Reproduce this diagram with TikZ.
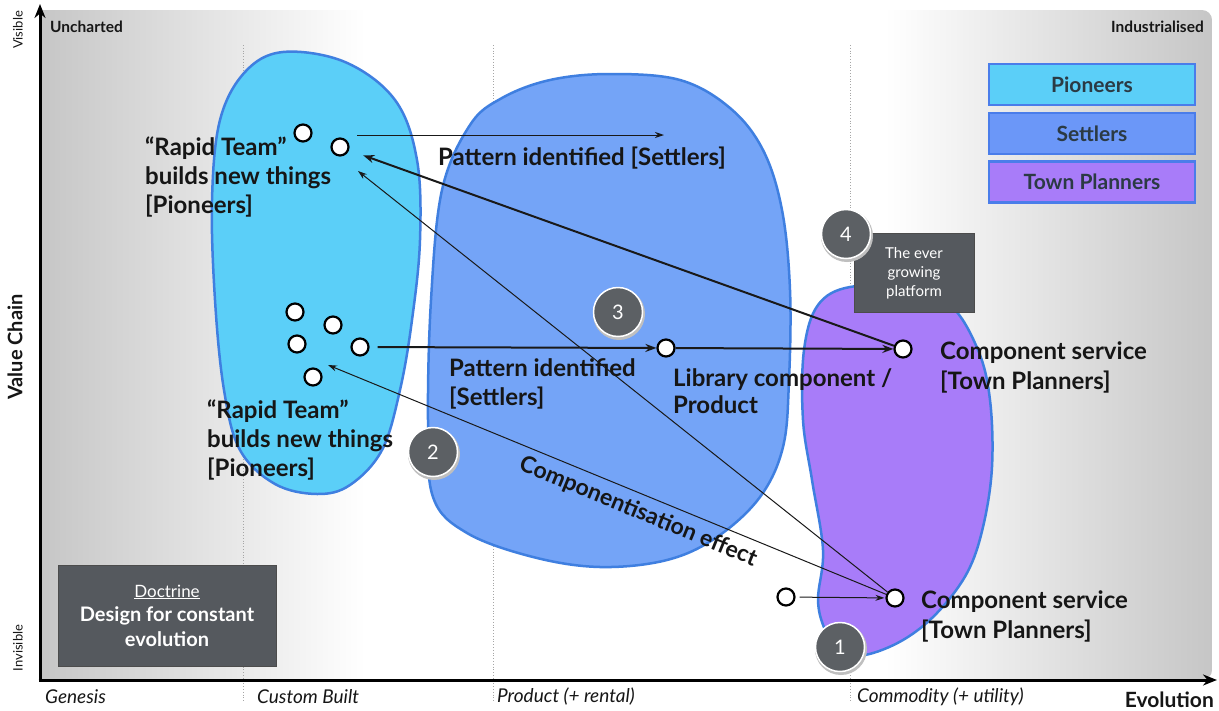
\documentclass[tikz,border=0pt]{standalone}
\usepackage{fontspec}
\setmainfont{Lato}
\usetikzlibrary{arrows.meta}
\definecolor{pionfill}{HTML}{5BCFF8}
\definecolor{settfill}{HTML}{74A4F7}
\definecolor{townfill}{HTML}{A87CF9}
\definecolor{blobline}{HTML}{3F7FE0}
\definecolor{legline}{HTML}{4A7DEA}
\definecolor{numgray}{HTML}{5C6064}
\definecolor{boxgray}{HTML}{55595E}
\definecolor{txt}{HTML}{161616}
\definecolor{legtxt}{HTML}{2B3A44}
\definecolor{bggray}{HTML}{C6C6C6}
\tikzset{
  lbl/.style={font=\bfseries\fontsize{24}{29}\selectfont, align=left, anchor=north west, inner sep=0pt, text=txt},
  dot/.style={circle, draw=black, line width=2.2pt, fill=white, minimum size=17pt, inner sep=0pt},
  num/.style={circle, fill=numgray, draw=white, line width=1.5pt, minimum size=49pt, inner sep=0pt, text=white, font=\fontsize{20}{20}\selectfont},
  legbox/.style={draw=legline, line width=2.5pt, minimum width=206pt, minimum height=41pt, inner sep=0pt, text=legtxt, font=\bfseries\fontsize{21}{21}\selectfont},
  blob/.style={draw=blobline, line width=2.5pt},
  axlbl/.style={font=\itshape\fontsize{19}{19}\selectfont, anchor=west, inner sep=0pt, text=txt},
  sidelbl/.style={font=\fontsize{13}{13}\selectfont, rotate=90, inner sep=0pt, text=txt},
  guide/.style={draw=gray!70, dotted, line width=0.8pt},
  thinarr/.style={-{Stealth[length=9pt,width=6pt]}, line width=1pt, draw=black!90},
  medarr/.style={-{Stealth[length=11pt,width=8pt]}, line width=2pt, draw=black!90},
}
\begin{document}
\begin{tikzpicture}[x=1pt,y=-1pt]
\useasboundingbox (0,0) rectangle (1219,710);
% background
\fill[white] (0,0) rectangle (1219,710);
\fill[white, rounded corners=10pt] (40,10) rectangle (1212,680);
\shade[left color=bggray, right color=white] (40,10) rectangle (365,680);
\begin{scope}
\clip[rounded corners=10pt] (40,10) rectangle (1212,680);
\shade[left color=white, right color=bggray] (885,10) rectangle (1212,680);
\end{scope}
% guides
\draw[guide] (243,45) -- (243,702);
\draw[guide] (493,45) -- (493,702);
\draw[guide] (850,45) -- (850,702);
% blobs
\draw[blob, fill=pionfill] plot[smooth cycle, tension=0.6] coordinates {(283,52) (345,62) (395,100) (417,160) (420,240) (412,320) (400,390) (382,450) (350,485) (317,494) (275,484) (240,450) (224,390) (215,300) (212,200) (220,120) (245,72)};
\draw[blob, fill=settfill] plot[smooth cycle, tension=0.6] coordinates {(442,190) (470,125) (502,98) (550,80) (610,74) (680,80) (730,108) (763,150) (782,210) (790,290) (789,380) (783,447) (760,497) (717,537) (667,560) (600,567) (533,557) (467,533) (433,497) (428,420) (431,300)};
\draw[blob, fill=townfill] plot[smooth cycle, tension=0.6] coordinates {(850,287) (905,289) (950,305) (978,350) (990,400) (992,467) (983,527) (967,573) (937,613) (903,640) (865,655) (838,652) (825,630) (818,600) (823,550) (812,480) (803,420) (804,350) (818,305)};
% axes
\draw[line width=3pt, -{Stealth[length=14pt,width=11pt]}] (40,681) -- (40,4);
\draw[line width=3pt, -{Stealth[length=14pt,width=11pt]}] (38.5,680) -- (1217,680);
% axis labels
\node[font=\bfseries\fontsize{15.5}{15.5}\selectfont, anchor=west, inner sep=0pt, text=txt] (unch) at (50,27) {Uncharted};
\node[font=\bfseries\fontsize{15.5}{15.5}\selectfont, anchor=east, inner sep=0pt, text=txt] (indu) at (1204,27) {Industrialised};
\node[axlbl] (gen) at (45,697) {Genesis};
\node[axlbl] (cust) at (257,697) {Custom Built};
\node[axlbl] (prod) at (497,697) {Product (+ rental)};
\node[axlbl] (comm) at (857,697) {Commodity (+ utility)};
\node[font=\bfseries\fontsize{21}{21}\selectfont, anchor=east, inner sep=0pt, text=txt] (evo) at (1214,700) {Evolution};
\node[sidelbl] (vis) at (18,30) {Visible};
\node[sidelbl] (invis) at (18,648) {Invisible};
\node[font=\bfseries\fontsize{20}{20}\selectfont, rotate=90, inner sep=0pt, text=txt] (vc) at (15,347) {Value Chain};
% legend
\node[legbox, fill=pionfill] (lp) at (1092,84.5) {Pioneers};
\node[legbox, fill=settfill!92!blue] (ls) at (1092,133.5) {Settlers};
\node[legbox, fill=townfill] (lt) at (1092,182) {Town Planners};
% text labels
\node[lbl] (t1) at (145,137) {“Rapid Team”\\builds new things\\[0pt][Pioneers]};
\node[lbl] (t2) at (438,147) {Pattern identified [Settlers]};
\node[lbl] (t3) at (207,400) {“Rapid Team”\\builds new things\\[0pt][Pioneers]};
\node[lbl] (t4) at (449,358) {Pattern identified\\[0pt][Settlers]};
\node[lbl, font=\bfseries\fontsize{24}{27}\selectfont] (t5) at (673,368) {Library component /\\Product};
\node[lbl, font=\bfseries\fontsize{24}{30}\selectfont] (t6) at (940,341) {Component service\\[0pt][Town Planners]};
\node[lbl, font=\bfseries\fontsize{24}{30}\selectfont] (t7) at (921,590) {Component service\\[0pt][Town Planners]};
\node[font=\bfseries\fontsize{23}{23}\selectfont, rotate=-22.3, inner sep=0pt, text=txt] (ce) at (638,512) {Componentisation effect};
% dots
\node[dot] (rA) at (303,133) {};
\node[dot] (rB) at (340,147) {};
\node[dot] (p1) at (295,312) {};
\node[dot] (p2) at (333,325) {};
\node[dot] (p3) at (297,344) {};
\node[dot] (p4) at (360,347) {};
\node[dot] (p5) at (313,377) {};
\node[dot] (lib) at (666,348) {};
\node[dot] (csU) at (903,349) {};
\node[dot] (pre) at (786,597) {};
\node[dot] (csL) at (895,598) {};
% connectors
\coordinate (topS) at (357,135);
\coordinate (topE) at (664,135);
\coordinate (tipB) at (358,171);
\coordinate (tipC) at (328,365);
\draw[thinarr] (topS) -- (topE);
\draw[medarr, shorten <=8pt] (p4) -- (lib);
\draw[medarr] (lib) -- (csU);
\draw[medarr, shorten >=15pt] (csU) -- (rB);
\draw[thinarr] (csL) -- (tipB);
\draw[thinarr] (csL) -- (tipC);
\draw[thinarr, shorten <=4pt, shorten >=1pt] (pre) -- (csL);
% ever growing box
\node[fill=boxgray, draw=black!70, line width=0.8pt, minimum width=120pt, minimum height=79pt, inner sep=0pt, text=white, align=center, font=\fontsize{15}{19}\selectfont] (egp) at (914,273) {The ever\\growing\\platform};
\node[draw=black!70, line width=1pt, rectangle, minimum width=218pt, minimum height=101pt, fill=boxgray, inner sep=0pt] (doc) at (167,616) {};
\node[text=white, font=\fontsize{17}{17}\selectfont, inner sep=0pt] (docT) at (167,592) {\underline{Doctrine}};
\node[text=white, font=\bfseries\fontsize{20}{25}\selectfont, align=center, inner sep=0pt] (docB) at (167,627) {Design for constant\\evolution};
% numbered circles
\foreach \n/\px/\py in {4/846/234, 3/618/312, 2/433/452, 1/840/647}{
  \fill[black!25] (\px+1,\py+2) circle (26pt);
  \node[num] (n\n) at (\px,\py) {\n};
}
\end{tikzpicture}
\end{document}
